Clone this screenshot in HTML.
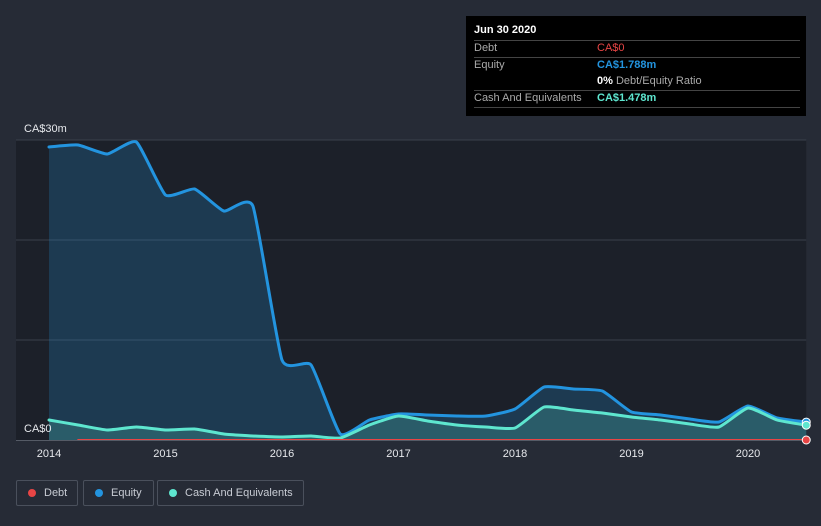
<!DOCTYPE html>
<html><head><meta charset="utf-8"><style>
body{margin:0;background:#262b36;font-family:"Liberation Sans",sans-serif;}
#wrap{position:relative;width:821px;height:526px;overflow:hidden;}
.tt{position:absolute;left:466px;top:16px;width:340px;height:100px;background:#000;color:#aaa;font-size:11px;}
.tt .r{position:absolute;left:8px;width:326px;border-top:1px solid #444;}
.leg{position:absolute;top:480px;height:26px;border:1px solid #4a505c;border-radius:2px;color:#c8ccd4;font-size:11px;line-height:24px;box-sizing:border-box;padding-left:27px;white-space:nowrap;}
.leg i{position:absolute;left:11px;top:8px;width:8px;height:8px;border-radius:50%;}
</style></head><body>
<div id="wrap">
<svg id="svg" width="821" height="526" style="position:absolute;left:0;top:0"></svg>
<div class="tt">
 <div style="position:absolute;left:8px;top:8px;color:#fff;font-weight:bold;font-size:11px">Jun 30 2020</div>
 <div class="r" style="top:24px"></div>
 <div style="position:absolute;left:8px;top:26px">Debt</div><div style="position:absolute;left:131px;top:26px;color:#e84545">CA$0</div>
 <div class="r" style="top:41px"></div>
 <div style="position:absolute;left:8px;top:43px">Equity</div><div style="position:absolute;left:131px;top:43px;color:#2394df;font-weight:bold">CA$1.788m</div>
 <div style="position:absolute;left:131px;top:59px"><b style="color:#fff">0%</b> Debt/Equity Ratio</div>
 <div class="r" style="top:74px"></div>
 <div style="position:absolute;left:8px;top:76px">Cash And Equivalents</div><div style="position:absolute;left:131px;top:76px;color:#5ee6cf;font-weight:bold">CA$1.478m</div>
 <div class="r" style="top:91px"></div>
</div>
<div class="leg" style="left:16px;width:62px"><i style="background:#e84545"></i>Debt</div>
<div class="leg" style="left:83px;width:71px"><i style="background:#2394df"></i>Equity</div>
<div class="leg" style="left:157px;width:147px"><i style="background:#5ee6cf"></i>Cash And Equivalents</div>
</div>
<script>
const times=[2014,2014.25,2014.5,2014.75,2015,2015.25,2015.5,2015.75,2016,2016.25,2016.5,2016.75,2017,2017.25,2017.5,2017.75,2018,2018.25,2018.5,2018.75,2019,2019.25,2019.5,2019.75,2020,2020.25,2020.5];
const equity=[29.3,29.5,28.6,29.8,24.5,25.1,22.9,23.4,8.0,7.5,0.6,2.0,2.6,2.5,2.4,2.4,3.1,5.3,5.1,4.9,2.8,2.5,2.1,1.8,3.4,2.2,1.79];
const cash=[2.0,1.5,1.0,1.3,1.0,1.1,0.6,0.4,0.3,0.4,0.2,1.5,2.4,1.9,1.5,1.3,1.2,3.3,3.0,2.7,2.3,2.0,1.6,1.3,3.2,2.0,1.48];
const debtTimes=[2014.25,2020.5];
const debt=[0,0];
const years=[2014,2015,2016,2017,2018,2019,2020];
const yLabels=["CA$0","CA$30m"];
const X=t=>49+(t-2014)*116.5, Y=v=>440-v*10;
const s=document.getElementById('svg'),NS='http://www.w3.org/2000/svg';
function el(n,a,p){const e=document.createElementNS(NS,n);for(const k in a)e.setAttribute(k,a[k]);(p||s).appendChild(e);return e;}
let bg=el('rect',{x:16,y:Y(30),width:X(2020.5)-16,height:300,fill:'#1c2029'});


[10,20,30].forEach(v=>{let g=el('line',{x1:16,x2:X(2020.5),y1:Y(v),y2:Y(v),stroke:'#3a404c','stroke-width':1});

});
function path(ts,vs){const p=ts.map((t,i)=>[X(t),Y(vs[i])]);let d='M'+p[0][0]+','+p[0][1];
for(let i=0;i<p.length-1;i++){const p0=p[Math.max(0,i-1)],p1=p[i],p2=p[i+1],p3=p[Math.min(p.length-1,i+2)];const k=0.08;
d+=' C'+(p1[0]+(p2[0]-p0[0])*k).toFixed(1)+','+(p1[1]+(p2[1]-p0[1])*k).toFixed(1)+' '+(p2[0]-(p3[0]-p1[0])*k).toFixed(1)+','+(p2[1]-(p3[1]-p1[1])*k).toFixed(1)+' '+p2[0].toFixed(1)+','+p2[1].toFixed(1);}
return d;}
function area(ts,vs,fill,name){let p=el('path',{d:path(ts,vs)+' L'+X(ts[ts.length-1])+','+Y(0)+' L'+X(ts[0])+','+Y(0)+' Z',fill:fill});

}
area(times,equity,'rgba(35,148,223,0.22)','equity-area');
area(times,cash,'rgba(94,230,207,0.2)','cash-area');
function line(ts,vs,c,name,w){let l=el('path',{d:path(ts,vs),fill:'none',stroke:c,'stroke-width':w,'stroke-linejoin':'round','stroke-linecap':'round'});

}
line(times,equity,'#2394df','equity-line',3);
line(times,cash,'#5ee6cf','cash-line',3);
line(debtTimes,debt,'#e84545','debt-line',2);
let ax=el('line',{x1:16,x2:X(2020.5),y1:440.5,y2:440.5,stroke:'#555b66'});


years.forEach(y=>{let t=el('text',{x:X(y),y:457,fill:'#e6e8ec','font-size':11,'text-anchor':'middle'});t.textContent=y;

});
let y0=el('text',{x:24,y:432,fill:'#e6e8ec','font-size':11});y0.textContent=yLabels[0];


let y1=el('text',{x:24,y:132,fill:'#e6e8ec','font-size':11});y1.textContent=yLabels[1];


[[equity,'#2394df'],[cash,'#5ee6cf'],[debt,'#e84545']].forEach(([a,c])=>{let d=el('circle',{cx:X(2020.5),cy:Y(a[a.length-1]),r:4,fill:c,stroke:'#fff','stroke-width':1});

});
</script>
</body></html>
